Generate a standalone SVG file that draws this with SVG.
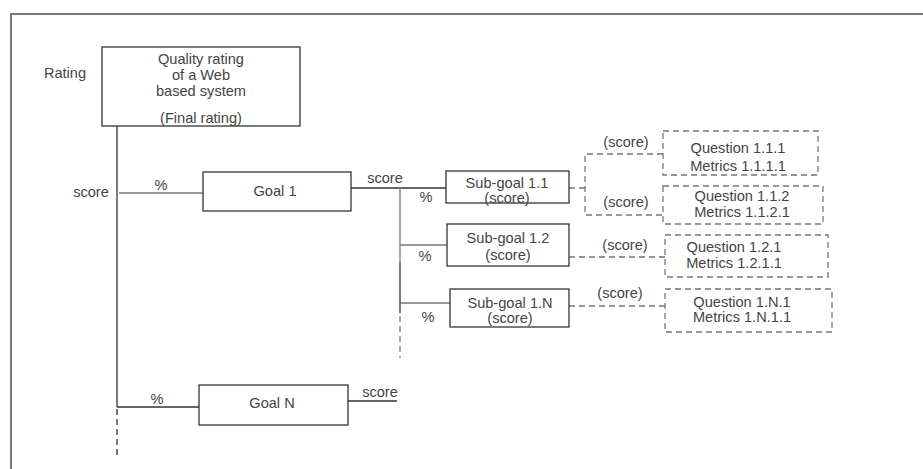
<svg xmlns="http://www.w3.org/2000/svg" width="923" height="469" viewBox="0 0 923 469">
<style>
  text { font-family: "Liberation Sans", Arial, sans-serif; font-size: 14.6px; fill: #444; text-anchor: middle; dominant-baseline: central; }
  .box { fill: #fff; stroke: #333; stroke-width: 1.3; }
  .dbox { fill: #fff; stroke: #777; stroke-width: 1.3; stroke-dasharray: 6 4; }
  .ln { fill: none; stroke: #333; stroke-width: 1.3; }
  .lg { fill: none; stroke: #777; stroke-width: 1.3; }
  .dl { fill: none; stroke: #777; stroke-width: 1.3; stroke-dasharray: 6 4; }
  .dk { fill: none; stroke: #333; stroke-width: 1.3; stroke-dasharray: 6 4; }
</style>
<rect x="0" y="0" width="923" height="469" fill="#fff"/>
<path d="M11,469 V14 H923" fill="none" stroke="#777" stroke-width="2"/>

<g id="connectors">
  <path class="ln" d="M117,126 V407"/>
  <path class="dk" d="M117,409 V458"/>
  <path class="lg" d="M119,193 H204"/>
  <path class="ln" d="M348,188 H446"/>
  <path class="lg" d="M400,188 V262"/>
  <path class="ln" d="M400,262 V313"/>
  <path class="dl" d="M400,316 V358"/>
  <path class="lg" d="M400,245 H447"/>
  <path class="lg" d="M400,303 H450"/>
  <path class="ln" d="M117,407 H200"/>
  <path class="ln" d="M345,401 H397"/>
  <path class="dl" d="M569,188 H585"/>
  <path class="dl" d="M663,154 H585 V215 H663"/>
  <path class="dl" d="M569,257 H665"/>
  <path class="dl" d="M569,306 H665"/>
  <text x="65" y="73">Rating</text>
  <text x="91" y="192">score</text>
  <text x="161" y="185">%</text>
  <text x="385" y="178">score</text>
  <text x="426" y="197">%</text>
  <text x="425" y="256">%</text>
  <text x="428" y="317">%</text>
  <text x="626" y="142">(score)</text>
  <text x="626" y="202">(score)</text>
  <text x="625" y="245">(score)</text>
  <text x="620" y="293">(score)</text>
  <text x="157" y="399">%</text>
  <text x="380" y="392">score</text>
</g>

<g id="root">
  <rect class="box" x="102" y="47" width="198" height="79"/>
  <text x="201" y="59">Quality rating</text>
  <text x="201" y="75">of a Web</text>
  <text x="201" y="91">based system</text>
  <text x="201" y="118">(Final rating)</text>
</g>

<g id="goal1">
  <rect class="box" x="203" y="172" width="148" height="39"/>
  <text x="275" y="191">Goal 1</text>
</g>

<g id="subgoal11">
  <rect class="box" x="446" y="171" width="123" height="32"/>
  <text x="507" y="183">Sub-goal 1.1</text>
  <text x="507" y="198">(score)</text>
</g>

<g id="subgoal12">
  <rect class="box" x="447" y="224" width="122" height="42"/>
  <text x="508" y="238">Sub-goal 1.2</text>
  <text x="508" y="255">(score)</text>
</g>

<g id="subgoal1N">
  <rect class="box" x="450" y="289" width="119" height="38"/>
  <text x="510" y="303">Sub-goal 1.N</text>
  <text x="510" y="318">(score)</text>
</g>

<g id="q111">
  <rect class="dbox" x="663" y="131" width="155" height="44"/>
  <text x="738" y="148">Question 1.1.1</text>
  <text x="738" y="166">Metrics 1.1.1.1</text>
</g>

<g id="q112">
  <rect class="dbox" x="663" y="186" width="160" height="38"/>
  <text x="742" y="196">Question 1.1.2</text>
  <text x="742" y="212">Metrics 1.1.2.1</text>
</g>

<g id="q121">
  <rect class="dbox" x="665" y="235" width="163" height="42"/>
  <text x="734" y="247">Question 1.2.1</text>
  <text x="734" y="263">Metrics 1.2.1.1</text>
</g>

<g id="q1N1">
  <rect class="dbox" x="665" y="289" width="167" height="43"/>
  <text x="742" y="302">Question 1.N.1</text>
  <text x="742" y="317">Metrics 1.N.1.1</text>
</g>

<g id="goalN">
  <rect class="box" x="199" y="385" width="149" height="40"/>
  <text x="272" y="403">Goal N</text>
</g>
</svg>
